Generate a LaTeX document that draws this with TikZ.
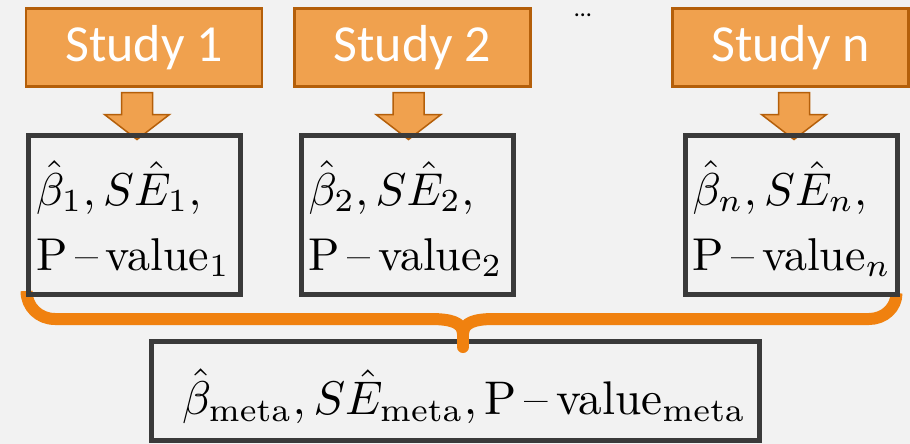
\documentclass[tikz,border=0pt]{standalone}
\usepackage{fontspec}
\newfontfamily\carlito{Carlito}
\usetikzlibrary{calc,backgrounds}
\definecolor{bgc}{HTML}{F2F2F2}
\definecolor{stfill}{HTML}{F0A14E}
\definecolor{stborder}{HTML}{B45F0A}
\definecolor{boxgray}{HTML}{3A3A3A}
\definecolor{braceor}{HTML}{F0810F}
\newcommand{\bigtxt}[2]{\scalebox{#1}{\fontsize{10}{12}\selectfont #2}}
\begin{document}
\begin{tikzpicture}[x=1pt,y=-1pt,
  studybox/.style={draw=stborder, fill=stfill, line width=2.5pt, minimum width=236pt, minimum height=78pt, inner sep=0pt, text=white, font=\carlito\fontsize{52}{60}\selectfont},
  resbox/.style={draw=boxgray, line width=5pt, minimum width=212pt, minimum height=159pt, inner sep=0pt},
  restext/.style={anchor=base west, inner sep=0pt},
  blockarrow/.style={fill=stfill, draw=stborder, line width=1.5pt, line join=miter},
  bracest/.style={draw=braceor, line width=12pt, line join=round},
  blockarr/.pic={\draw[blockarrow] (-15.5,-40.5) -- (15.5,-40.5) -- (15.5,-18.5) -- (32.5,-18.5) -- (0,6.5) -- (-32.5,-18.5) -- (-15.5,-18.5) -- cycle;}]

\begin{scope}[on background layer]
\fill[bgc] (0,0) rectangle (910,444);
\end{scope}
\useasboundingbox (0,0) rectangle (910,444);

% meta box
\node[draw=boxgray, line width=5pt, minimum width=608pt, minimum height=99pt, inner sep=0pt] (m) at (455.5,391) {};
\node[anchor=base west, inner sep=0pt] (mt) at ($(m.north west)+(33,75)$)
  {\bigtxt{4.72}{$\hat{\beta}_{\mathrm{meta}}, S\hat{E}_{\mathrm{meta}}, \mbox{P\,--\,value}_{\mathrm{meta}}$}};

% brace
\coordinate (bl) at (26.5,291);
\coordinate (br) at (896.5,293);
\coordinate (bj) at (463,334);
\coordinate (btip) at (463,347);
\draw[bracest] (bl) .. controls (26.5,307) and (39,319) .. (55,319) -- (430,319)
  .. controls (450,319) and (463,322) .. (bj)
  .. controls (463,322) and (476,319) .. (494,319) -- (869,319)
  .. controls (884,319) and (896.5,308) .. (br);
\draw[bracest, line cap=round] (bj) -- (btip);

% study boxes
\node[studybox] (s1) at (144,47.5) {Study 1};
\node[studybox] (s2) at (412.5,47.5) {Study 2};
\node[studybox] (sn) at (790.5,47.5) {Study n};
\node[anchor=base, inner sep=0pt, font=\carlito\fontsize{24}{24}\selectfont] (dots) at (583,17) {\dots};

% result boxes
\node[resbox] (r1) at (134.5,215) {};
\node[resbox] (r2) at (407,215) {};
\node[resbox] (rn) at (791,215) {};

\node[restext] (r1a) at ($(r1.north west)+(10,72)$) {\bigtxt{4.6}{$\hat{\beta}_1, S\hat{E}_1,$}};
\node[restext] (r1b) at ($(r1.north west)+(10,137)$) {\bigtxt{4.6}{P\,--\,value$_1$}};
\node[restext] (r2a) at ($(r2.north west)+(10,72)$) {\bigtxt{4.6}{$\hat{\beta}_2, S\hat{E}_2,$}};
\node[restext] (r2b) at ($(r2.north west)+(10,137)$) {\bigtxt{4.6}{P\,--\,value$_2$}};
\node[restext] (rna) at ($(rn.north west)+(10,72)$) {\bigtxt{4.6}{$\hat{\beta}_n, S\hat{E}_n,$}};
\node[restext] (rnb) at ($(rn.north west)+(10,137)$) {\bigtxt{4.6}{P\,--\,value$_n$}};

% block arrows (under boxes)
\begin{scope}[on background layer]
\pic at ($(r1.north)+(2.5,0)$) {blockarr};
\pic at ($(r2.north)+(1.5,0)$) {blockarr};
\pic at ($(rn.north)+(3,0)$) {blockarr};
\end{scope}
\end{tikzpicture}
\end{document}
